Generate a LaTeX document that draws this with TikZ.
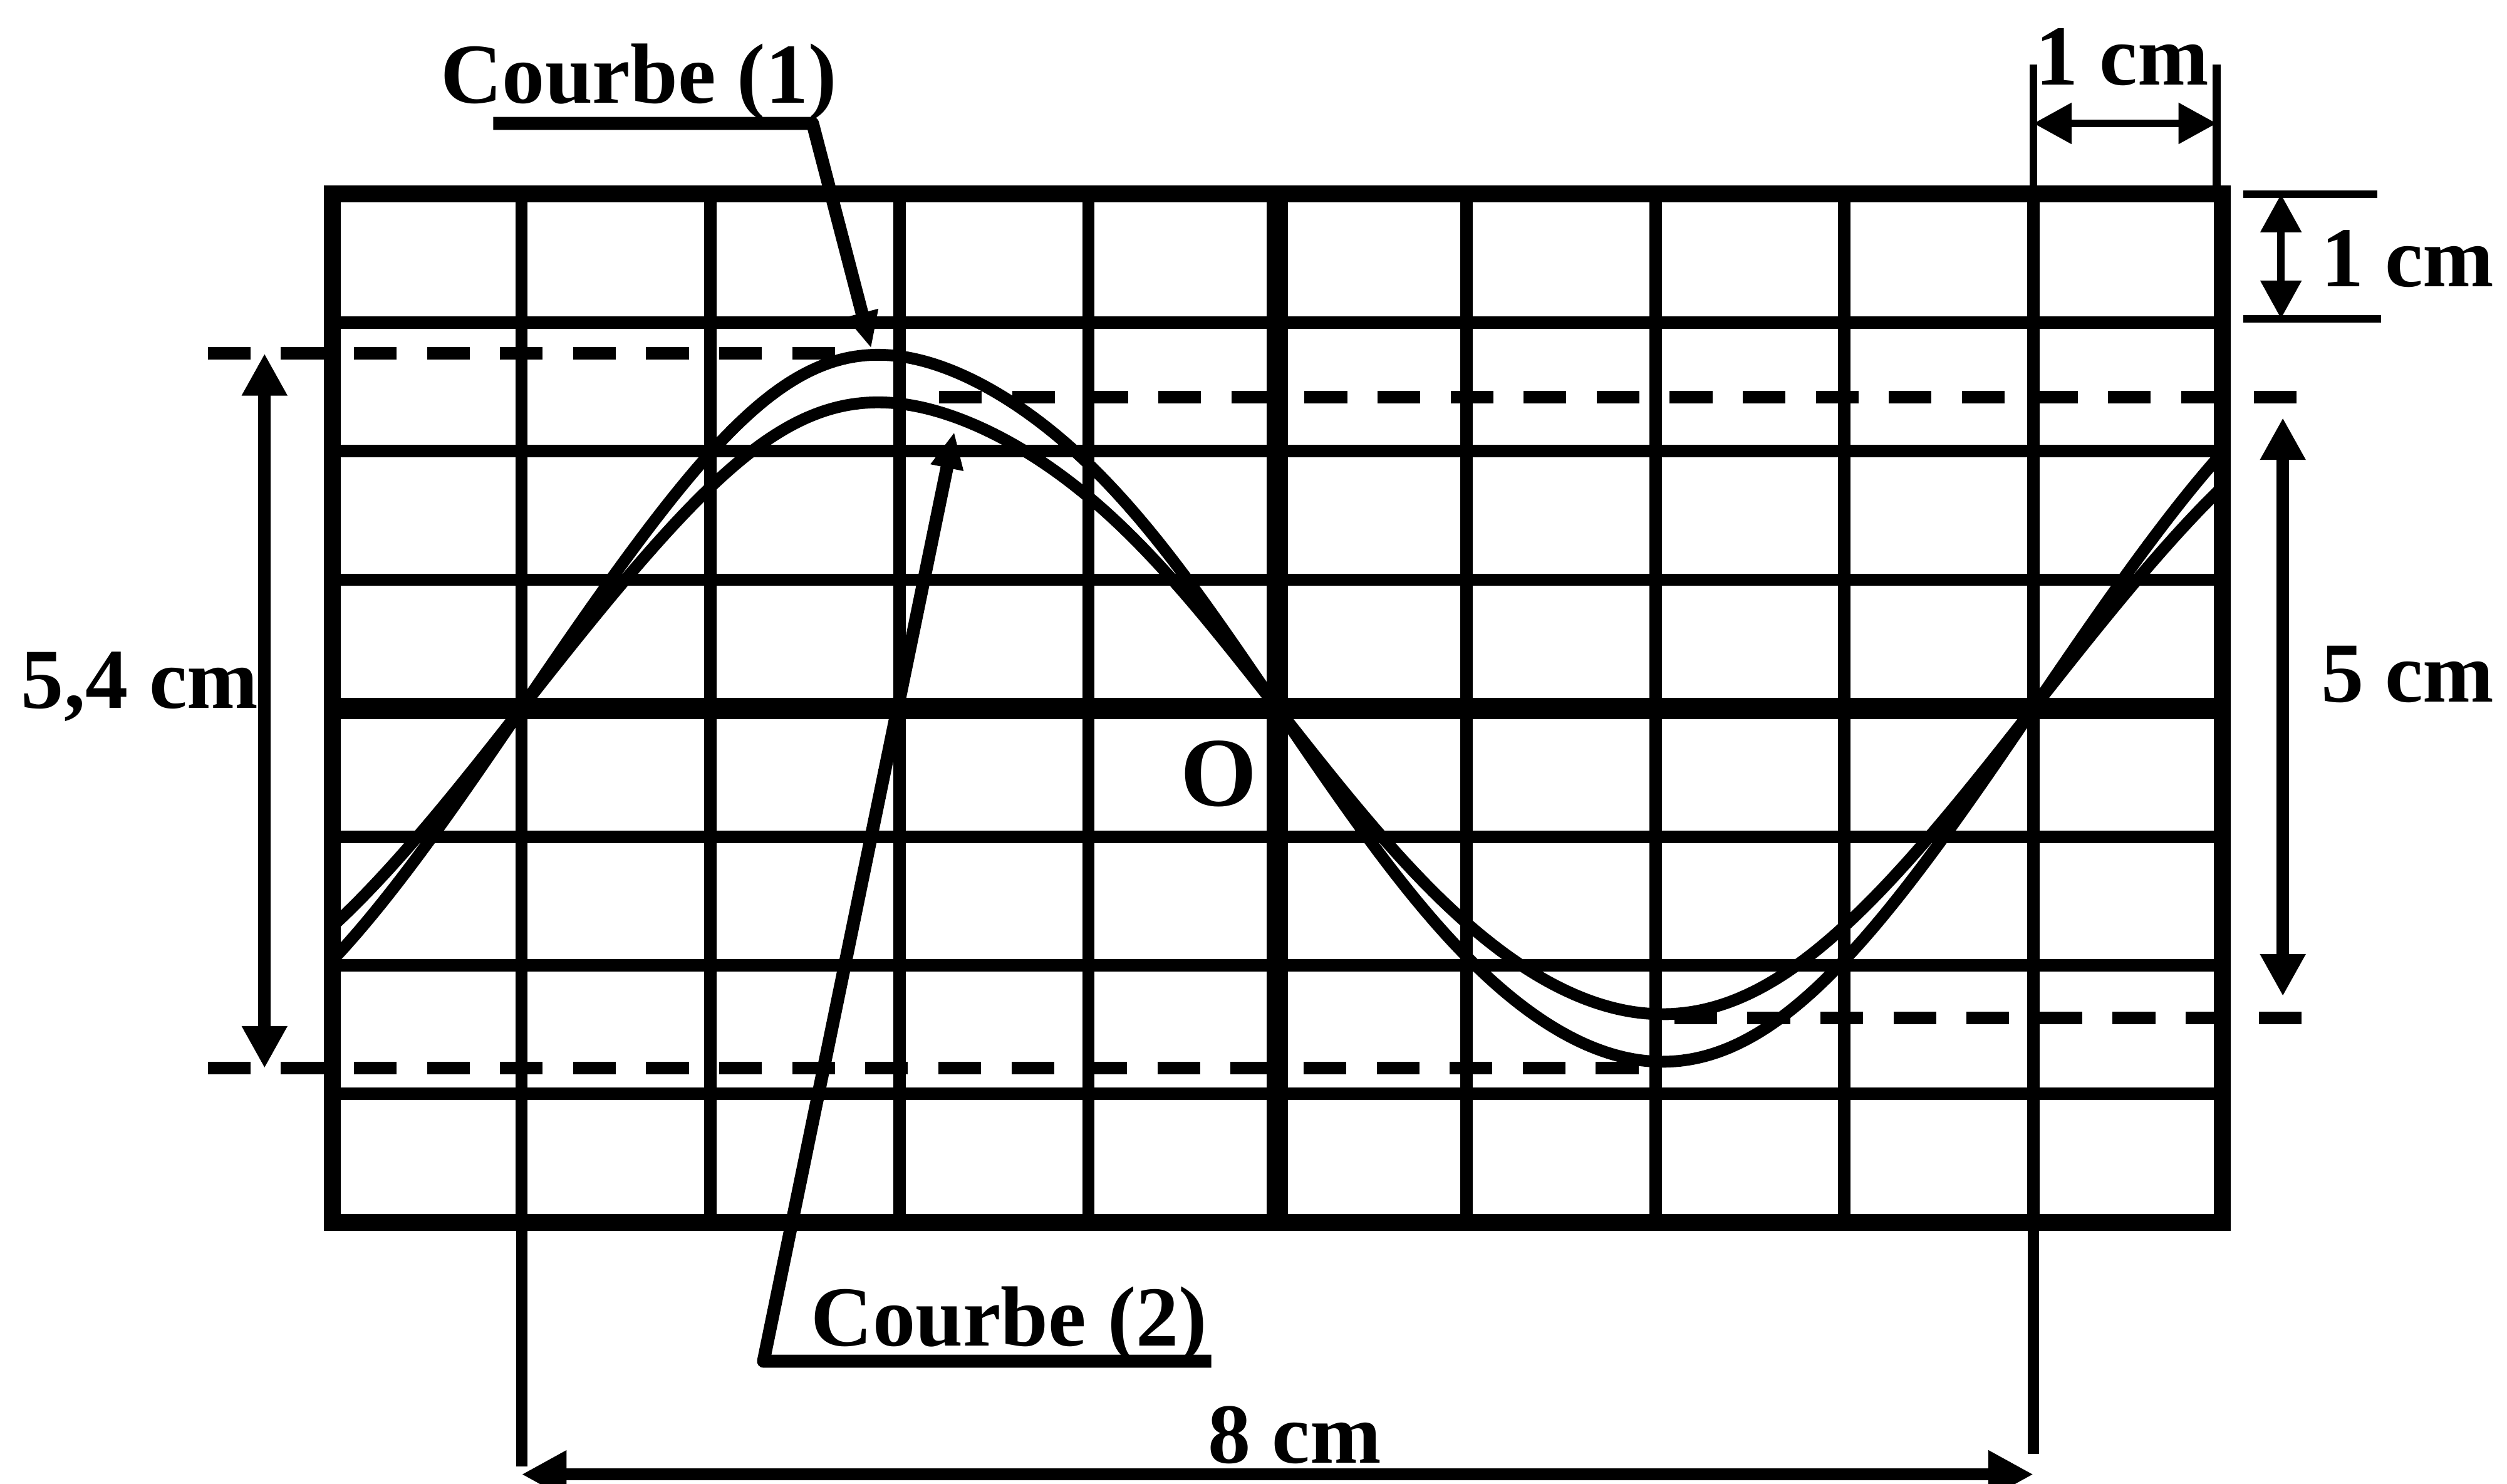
\documentclass[tikz,border=0pt]{standalone}
\usepackage{fontspec}
\setmainfont{Liberation Serif}
\usetikzlibrary{arrows.meta}

\begin{document}
\begin{tikzpicture}[x=1.182cm, y=0.804cm,
  declare function={sb(\t)=sin(45*(\t+4));
    wave(\t)=sin(45*(\t+4)+5.2*max(0,sb(\t))^4-1.7*abs(min(0,sb(\t)))^4);},
  gridline/.style={line width=2.2pt},
  axisline/.style={line width=3.8pt},
  frameline/.style={line width=3pt},
  levelline/.style={line width=2.2pt, dash pattern=on 7.6pt off 5.4pt},
  curveline/.style={line width=2.1pt, smooth, samples=200, domain=-5:5},
  extline/.style={line width=2pt},
  thinext/.style={line width=1.4pt},
  dimarrow/.style={line width=2.2pt, {Triangle[length=7.5pt,width=7.6pt]}-{Triangle[length=7.5pt,width=7.6pt]}},
  thinarrow/.style={line width=1.4pt, {Triangle[length=6.8pt,width=7pt]}-{Triangle[length=6.8pt,width=7pt]}},
  pointer/.style={line width=2.3pt, line join=round, -{Triangle[length=6.5pt,width=5.5pt]}},
  lbl/.style={font=\fontsize{15.2}{18}\selectfont\bfseries, inner sep=0pt}]
\useasboundingbox (-6.760,-6.032) rectangle (6.506,5.510);

% grid of the screen
\foreach \i in {-4,...,4} \draw[gridline] (\i,-4) -- (\i,4);
\foreach \j in {-3,...,3} \draw[gridline] (-5,\j) -- (5,\j);
\draw[axisline] (0,-4) -- (0,4);
\draw[axisline] (-5,0) -- (5,0);
\draw[frameline] (-5,-4) rectangle (5,4);

% levels of the two curves
\draw[levelline] (-5.66,2.76) -- (-2.31,2.76);
\draw[levelline] (-5.66,-2.80) -- (1.95,-2.80);
\draw[levelline] (-1.79,2.42) -- (5.52,2.42);
\draw[levelline] (2.10,-2.41) -- (5.52,-2.41);

% the two curves
\draw[curveline] plot (\x,{2.75*wave(\x)});
\draw[curveline] plot (\x,{2.38*wave(\x)});

\node[lbl, font=\fontsize{17.5}{20}\selectfont\bfseries] (o) at (-0.31,-0.51) {O};

% 5,4 cm
\coordinate (h54) at (-5.36,2.76);
\coordinate (b54) at (-5.36,-2.80);
\draw[dimarrow] (h54) -- (b54);
\node[lbl, anchor=base] (l54) at (-6.02,0) {5,4 cm};

% 5 cm
\coordinate (h5) at (5.32,2.26);
\coordinate (b5) at (5.32,-2.24);
\draw[dimarrow] (h5) -- (b5);
\node[lbl, anchor=base] (l5) at (5.98,0.05) {5 cm};

% 1 cm (top)
\draw[thinext] (4,4) -- (4,5.01);
\draw[thinext] (4.97,4) -- (4.97,5.01);
\coordinate (g1) at (4,4.55);
\coordinate (d1) at (4.97,4.55);
\draw[thinarrow] (g1) -- (d1);
\node[lbl, anchor=base] (lx1) at (4.47,4.85) {1 cm};

% 1 cm (right)
\draw[thinext] (5.11,4) -- (5.82,4);
\draw[thinext] (5.11,3.03) -- (5.84,3.03);
\coordinate (h1) at (5.31,4);
\coordinate (b1) at (5.31,3.03);
\draw[thinarrow] (h1) -- (b1);
\node[lbl, anchor=base] (ly1) at (5.98,3.28) {1 cm};

% 8 cm
\draw[extline] (-4,-4) -- (-4,-5.90);
\draw[extline] (4,-4) -- (4,-5.80);
\coordinate (g8) at (-4,-5.96);
\coordinate (d8) at (4,-5.96);
\draw[line width=2.2pt, {Triangle[length=8pt,width=8pt]}-{Triangle[length=8pt,width=8pt]}] (g8) -- (d8);
\node[lbl, anchor=base] (l8) at (0.09,-5.87) {8 cm};

% Courbe (1)
\node[lbl, anchor=base] (c1) at (-3.38,4.71) {Courbe (1)};
\coordinate (u1) at (-4.15,4.55);
\coordinate (k1) at (-2.46,4.55);
\coordinate (p1) at (-2.15,2.80);
\draw[pointer] (u1) -- (k1) -- (p1);

% Courbe (2)
\node[lbl, anchor=base] (c2) at (-1.42,-4.96) {Courbe (2)};
\coordinate (u2) at (-0.35,-5.08);
\coordinate (k2) at (-2.72,-5.08);
\coordinate (p2) at (-1.71,2.15);
\draw[pointer] (u2) -- (k2) -- (p2);
\end{tikzpicture}
\end{document}
